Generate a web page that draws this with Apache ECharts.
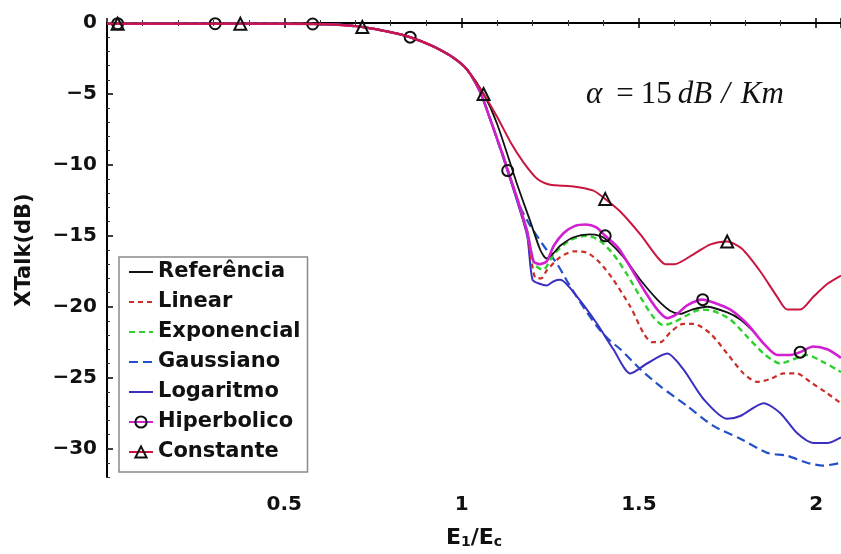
<!DOCTYPE html>
<html>
<head>
<meta charset="utf-8">
<script src="https://cdn.jsdelivr.net/npm/echarts@6/dist/echarts.min.js"></script>
<style>
  html, body { margin: 0; padding: 0; background: #fff; }
  #chart { width: 841px; height: 554px; }
</style>
</head>
<body>
<div id="chart"></div>
<script>
// Axis ticks
const xTickValues = [0.5, 1, 1.5, 2];
const yTickValues = [0, -5, -10, -15, -20, -25, -30];

// Shared low-energy segment (all models coincide here)
const commonStart = [
  [0, -0.05], [0.03, -0.05], [0.305, -0.05], [0.376, -0.05], [0.58, -0.07],
  [0.65, -0.12], [0.72, -0.28], [0.8, -0.65], [0.855, -1.0], [0.92, -1.65],
  [0.977, -2.45], [1.016, -3.3]
];

// Crosstalk curves, XTalk(dB) vs E1/Ec
const referencia = [
  [1.062, -5.0], [1.10, -7.1], [1.157, -11.4], [1.194, -14.0], [1.222, -16.0],
  [1.24, -16.6], [1.26, -16.2], [1.278, -15.7], [1.316, -15.1], [1.36, -14.9],
  [1.39, -15.0], [1.41, -15.3], [1.457, -16.5], [1.504, -18.1], [1.552, -19.5],
  [1.589, -20.3], [1.617, -20.5], [1.65, -20.2], [1.692, -20.0], [1.749, -20.4],
  [1.786, -20.9], [1.83, -21.9]
];
const linear = [
  [1.053, -4.9], [1.081, -6.8], [1.119, -9.5], [1.157, -12.4], [1.185, -14.9],
  [1.21, -18.0], [1.225, -18.0], [1.24, -17.45], [1.278, -16.5], [1.316, -16.1],
  [1.355, -16.2], [1.39, -16.9], [1.428, -18.1], [1.476, -20.0], [1.514, -21.9],
  [1.537, -22.5], [1.56, -22.5], [1.589, -21.8], [1.625, -21.2], [1.654, -21.2],
  [1.702, -21.9], [1.749, -23.3], [1.795, -24.7], [1.833, -25.3], [1.87, -25.1],
  [1.908, -24.7], [1.946, -24.7], [1.983, -25.3], [2.031, -26.1], [2.07, -26.8]
];
const exponencial = [
  [1.053, -4.9], [1.081, -6.8], [1.119, -9.5], [1.157, -12.4], [1.185, -14.7],
  [1.205, -17.0], [1.23, -17.4], [1.26, -16.3], [1.307, -15.3], [1.355, -15.0],
  [1.39, -15.35], [1.428, -16.3], [1.466, -17.7], [1.504, -19.3], [1.54, -20.7],
  [1.569, -21.3], [1.598, -21.1], [1.636, -20.6], [1.673, -20.2], [1.71, -20.3],
  [1.758, -20.9], [1.805, -22.1], [1.852, -23.3], [1.899, -24.0], [1.936, -23.7],
  [1.974, -23.4], [2.02, -23.9], [2.07, -24.6]
];
const gaussiano = [
  [1.053, -4.9], [1.081, -6.8], [1.119, -9.6], [1.13, -10.4], [1.166, -13.0],
  [1.194, -14.3], [1.24, -16.0], [1.27, -17.0], [1.30, -18.3], [1.335, -19.7],
  [1.382, -21.4], [1.419, -22.4], [1.448, -23.0], [1.504, -24.4], [1.56, -25.6],
  [1.636, -27.0], [1.71, -28.4], [1.786, -29.3], [1.862, -30.3], [1.918, -30.5],
  [1.974, -31.0], [2.02, -31.2], [2.07, -31.0]
];
const logaritmo = [
  [1.053, -4.9], [1.081, -6.8], [1.119, -9.6], [1.157, -12.6], [1.185, -15.0],
  [1.2, -18.1], [1.222, -18.4], [1.24, -18.5], [1.26, -18.2], [1.278, -18.1],
  [1.326, -19.3], [1.382, -21.2], [1.428, -23.0], [1.476, -24.7], [1.523, -24.0],
  [1.58, -23.3], [1.625, -24.4], [1.682, -26.5], [1.749, -27.9], [1.786, -27.7],
  [1.852, -26.8], [1.899, -27.5], [1.946, -28.9], [1.992, -29.6], [2.031, -29.6],
  [2.07, -29.2]
];
const hiperbolico = [
  [1.053, -4.9], [1.081, -6.8], [1.119, -9.5], [1.13, -10.4], [1.157, -12.4],
  [1.185, -14.7], [1.203, -16.8], [1.22, -17.0], [1.24, -16.8], [1.26, -15.7],
  [1.288, -14.8], [1.32, -14.3], [1.35, -14.2], [1.38, -14.4], [1.405, -15.0],
  [1.44, -15.8], [1.476, -17.2], [1.514, -18.8], [1.552, -20.2], [1.58, -20.8],
  [1.608, -20.5], [1.636, -19.9], [1.68, -19.5], [1.71, -19.7], [1.758, -20.2],
  [1.805, -21.2], [1.852, -22.6], [1.89, -23.4], [1.927, -23.4], [1.955, -23.2],
  [1.992, -22.8], [2.031, -23.0], [2.07, -23.6]
];
const constante = [
  [1.062, -5.0], [1.10, -6.6], [1.138, -8.4], [1.174, -9.8], [1.214, -11.0],
  [1.25, -11.4], [1.31, -11.5], [1.37, -11.8], [1.405, -12.4], [1.448, -13.3],
  [1.504, -14.9], [1.552, -16.5], [1.575, -17.0], [1.6, -17.0], [1.654, -16.3],
  [1.702, -15.6], [1.749, -15.4], [1.79, -15.9], [1.842, -17.5], [1.89, -19.3],
  [1.918, -20.2], [1.955, -20.2], [1.992, -19.3], [2.031, -18.4], [2.07, -17.8]
];

// Positions (E1/Ec) that carry a marker symbol
const hiperbolicoMarks = [0.03, 0.305, 0.58, 0.855, 1.13, 1.405, 1.68, 1.955];
const constanteMarks = [0.03, 0.376, 0.72, 1.062, 1.405, 1.749];

const FONT = 'DejaVu Sans';

// Series colours and dash patterns
const styles = {
  'Referência':  { color: '#111111', width: 1.8, dash: 'solid' },
  'Linear':      { color: '#c83028', width: 2.2, dash: [5, 4] },
  'Exponencial': { color: '#2fcf2f', width: 2.4, dash: [6, 4] },
  'Gaussiano':   { color: '#2350c8', width: 2.2, dash: [9, 5] },
  'Logaritmo':   { color: '#3a2fbf', width: 2,   dash: 'solid' },
  'Hiperbolico': { color: '#d21fd2', width: 2.6, dash: 'solid' },
  'Constante':   { color: '#c8163f', width: 2,   dash: 'solid' }
};
const legendOrder = ['Referência', 'Linear', 'Exponencial', 'Gaussiano', 'Logaritmo', 'Hiperbolico', 'Constante'];

const markerStyle = { color: 'rgba(0,0,0,0)', borderColor: '#111', borderWidth: 2 };

function withMarks(points, marks) {
  return points.map(p => marks.indexOf(p[0]) >= 0
    ? { value: p }
    : { value: p, symbol: 'none' });
}

function lineSeries(name, points, z) {
  const s = styles[name];
  return {
    name: name,
    type: 'line',
    data: commonStart.concat(points),
    symbol: 'none',
    smooth: 0.25,
    lineStyle: { color: s.color, width: s.width, type: s.dash },
    itemStyle: { color: s.color },
    emphasis: { disabled: true },
    animation: false,
    z: z
  };
}

function markedSeries(name, points, marks, symbol, size, z) {
  const s = styles[name];
  return {
    name: name, type: 'line', smooth: 0.25, animation: false, z: z,
    data: withMarks(commonStart.concat(points), marks),
    symbol: symbol, symbolSize: size, showSymbol: true, showAllSymbol: true,
    lineStyle: { color: s.color, width: s.width },
    itemStyle: markerStyle,
    emphasis: { disabled: true }
  };
}

const series = [
  lineSeries('Gaussiano', gaussiano, 2),
  lineSeries('Logaritmo', logaritmo, 2),
  lineSeries('Linear', linear, 2),
  lineSeries('Exponencial', exponencial, 2),
  lineSeries('Referência', referencia, 2),
  markedSeries('Hiperbolico', hiperbolico, hiperbolicoMarks, 'circle', 11, 3),
  markedSeries('Constante', constante, constanteMarks, 'triangle', 12, 4)
];

// Legend entries: line sample, plus the marker for the marked models
const legendData = legendOrder.map(name => {
  const s = styles[name];
  const marked = name === 'Hiperbolico' || name === 'Constante';
  return {
    name: name,
    lineStyle: { color: s.color, width: 2, type: s.dash },
    itemStyle: marked
      ? { color: 'rgba(0,0,0,0)', borderColor: '#111', borderWidth: 2 }
      : { color: 'rgba(0,0,0,0)', borderColor: 'rgba(0,0,0,0)', borderWidth: 0, opacity: 0 }
  };
});

const tickLabelStyle = { fontFamily: FONT, fontWeight: 'bold', fontSize: 20, color: '#111' };
const axisLineStyle = { lineStyle: { color: '#000', width: 2 } };

const chart = echarts.init(document.getElementById('chart'), null, { renderer: 'canvas' });

const option = {
  backgroundColor: '#fff',
  animation: false,
  grid: { left: 107, top: 23, right: 0, bottom: 72, containLabel: false },
  legend: {
    orient: 'vertical', left: 119, top: 257,
    padding: [3, 7, 8, 9], itemGap: 6, itemWidth: 24, itemHeight: 14,
    backgroundColor: '#fff', borderColor: '#8a8a8a', borderWidth: 1.5, borderRadius: 0,
    selectedMode: false,
    textStyle: { fontFamily: FONT, fontWeight: 'bold', fontSize: 21, color: '#111', lineHeight: 24 },
    data: legendData
  },
  xAxis: [
    {
      type: 'value', position: 'bottom', min: 0, max: 2.07, interval: 0.5,
      axisLine: axisLineStyle,
      axisTick: { inside: true, length: 5, lineStyle: { color: '#000', width: 1.5 } },
      minorTick: { show: true, splitNumber: 5, length: 3, lineStyle: { color: '#333', width: 1 } },
      axisLabel: Object.assign({ showMinLabel: false, showMaxLabel: false, margin: 18 }, tickLabelStyle),
      splitLine: { show: false },
      name: '{b|E}{s|1}{b|/E}{s|c}', nameLocation: 'middle', nameGap: 50,
      nameTextStyle: {
        rich: {
          b: { fontFamily: FONT, fontWeight: 'bold', fontSize: 22, color: '#111' },
          s: { fontFamily: FONT, fontWeight: 'bold', fontSize: 14, color: '#111', verticalAlign: 'bottom', padding: [8, 0, 0, 0] }
        }
      }
    },
    {
      type: 'value', position: 'top', min: 0, max: 2.07, interval: 0.5,
      axisLine: axisLineStyle,
      axisTick: { inside: true, length: 5, lineStyle: { color: '#000', width: 1.5 } },
      minorTick: { show: true, splitNumber: 5, length: 3, lineStyle: { color: '#333', width: 1 } },
      axisLabel: { show: false },
      splitLine: { show: false }
    }
  ],
  yAxis: [
    {
      type: 'value', position: 'left', min: -32, max: 0, offset: 0,
      axisLine: axisLineStyle,
      axisTick: { inside: true, length: 6, customValues: yTickValues, lineStyle: { color: '#000', width: 1.5 } },
      axisLabel: Object.assign({
        customValues: yTickValues, margin: 10,
        formatter: v => (v < 0 ? '\u2212' + Math.abs(v) : String(v))
      }, tickLabelStyle),
      splitLine: { show: false },
      name: 'XTalk(dB)', nameLocation: 'middle', nameGap: 72, nameRotate: 90,
      nameTextStyle: { fontFamily: FONT, fontWeight: 'bold', fontSize: 21, color: '#111' }
    },
    {
      type: 'value', position: 'left', min: -32, max: 0, interval: 1, offset: 0,
      axisLine: { show: false },
      axisTick: { inside: true, length: 3, lineStyle: { color: '#333', width: 1 } },
      axisLabel: { show: false },
      splitLine: { show: false }
    }
  ],
  graphic: [
    {
      // attenuation annotation
      type: 'text', left: 586, top: 79, z: 10,
      style: {
        text: '{a|\u03b1}{eq|=}{n|15}{u|dB}{sl|/}{k|Km}',
        fill: '#111',
        rich: {
          a:  { fontFamily: 'Liberation Serif', fontStyle: 'italic', fontSize: 31, fill: '#111' },
          eq: { fontFamily: 'Liberation Serif', fontSize: 31, fill: '#111', padding: [0, 0, 0, 14] },
          n:  { fontFamily: 'Liberation Serif', fontSize: 31, fill: '#111', padding: [0, 0, 0, 7] },
          u:  { fontFamily: 'Liberation Serif', fontStyle: 'italic', fontSize: 31, fill: '#111', padding: [0, 0, 0, 6] },
          sl: { fontFamily: 'Liberation Serif', fontStyle: 'italic', fontSize: 31, fill: '#111', padding: [0, 0, 0, 9] },
          k:  { fontFamily: 'Liberation Serif', fontStyle: 'italic', fontSize: 31, fill: '#111', padding: [0, 0, 0, 11] }
        }
      }
    }
  ],
  series: series
};

chart.setOption(option);
</script>
</body>
</html>
